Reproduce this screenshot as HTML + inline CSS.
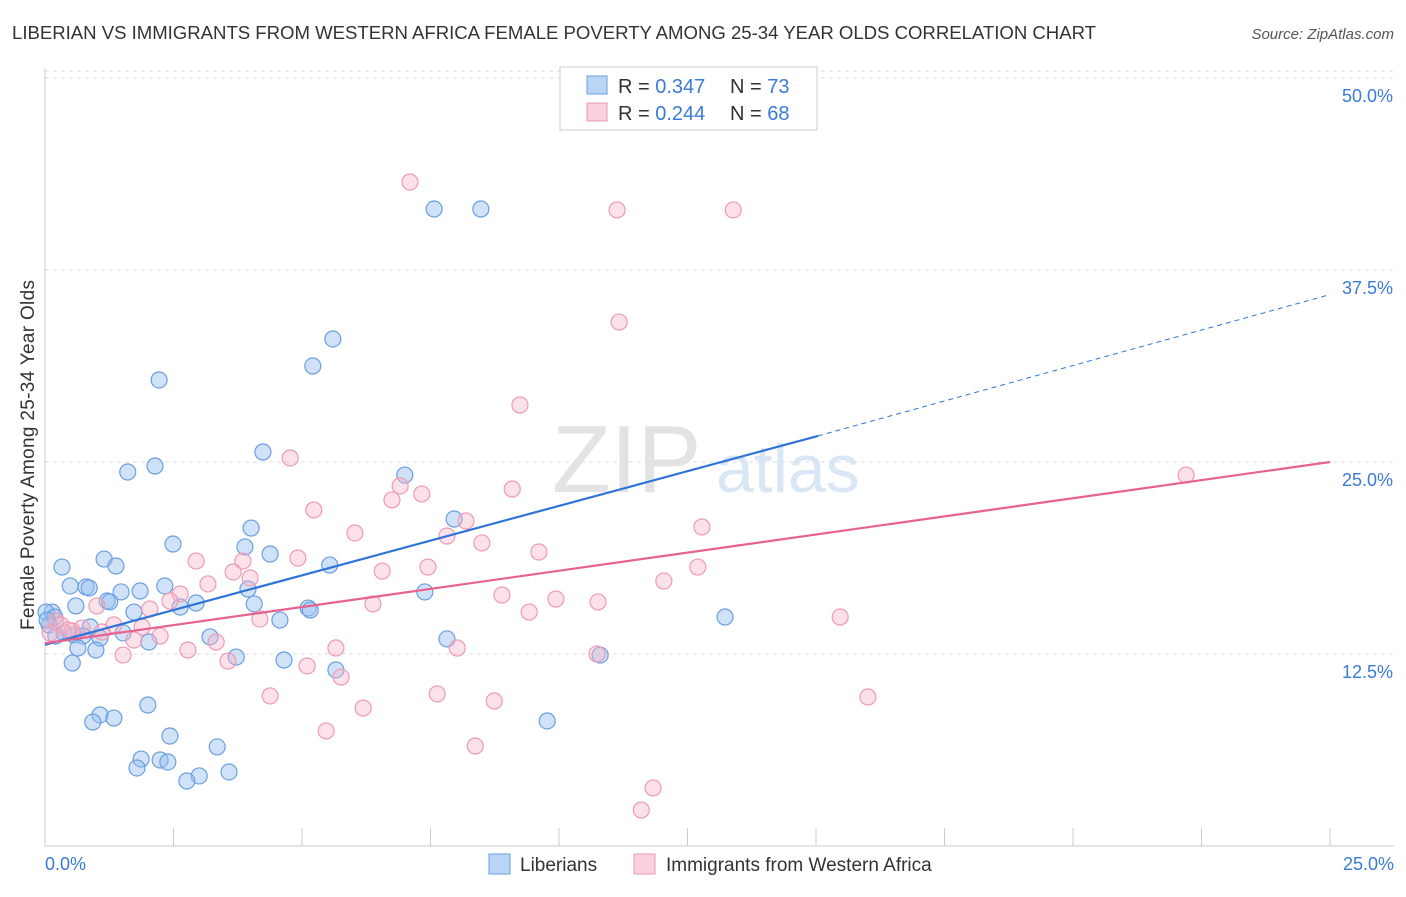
<!DOCTYPE html>
<html><head><meta charset="utf-8"><style>
body{margin:0;background:#fff;font-family:"Liberation Sans",sans-serif}
svg text{font-family:"Liberation Sans",sans-serif}
</style></head><body>
<svg id="c" width="1406" height="892">
<text x="12" y="39" font-size="18.6" fill="#333" textLength="1084">LIBERIAN VS IMMIGRANTS FROM WESTERN AFRICA FEMALE POVERTY AMONG 25-34 YEAR OLDS CORRELATION CHART</text>
<text x="1394" y="39" font-size="15" fill="#555" text-anchor="end" font-style="italic">Source: ZipAtlas.com</text>
<text x="0" y="0" transform="translate(34,455) rotate(-90)" font-size="19" fill="#333" text-anchor="middle" textLength="350">Female Poverty Among 25-34 Year Olds</text>
<g><text x="552" y="492" font-size="96" fill="#e3e3e3" font-family="Liberation Serif">ZIP</text><text x="716" y="492" font-size="68" fill="#d8e6f5">atlas</text></g>
<g id="grid"></g><g id="pts"></g><g id="lines"></g>
<g>
<rect x="560" y="67" width="257" height="63" fill="#fff" stroke="#ccc"/>
<rect x="587" y="76" width="20" height="18" fill="#b9d4f5" stroke="#6a9fe0"/>
<text x="618" y="93" font-size="20" fill="#333">R = <tspan fill="#3a7bd5">0.347</tspan></text>
<text x="730" y="93" font-size="20" fill="#333">N = <tspan fill="#3a7bd5">73</tspan></text>
<rect x="587" y="103" width="20" height="18" fill="#fbcfdc" stroke="#ee9ab4"/>
<text x="618" y="120" font-size="20" fill="#333">R = <tspan fill="#3a7bd5">0.244</tspan></text>
<text x="730" y="120" font-size="20" fill="#333">N = <tspan fill="#3a7bd5">68</tspan></text>
</g>
<g>
<rect x="489" y="854" width="21" height="20" fill="#b9d4f5" stroke="#6a9fe0"/>
<text x="520" y="871" font-size="19" fill="#333">Liberians</text>
<rect x="634" y="854" width="21" height="20" fill="#fbcfdc" stroke="#ee9ab4"/>
<text x="666" y="871" font-size="19" fill="#333">Immigrants from Western Africa</text>
</g>
</svg>
<script>
const xTicksVals=[0,25];
const yTicks=[12.5,25,37.5,50];
const yTickLabels=["12.5%","25.0%","37.5%","50.0%"];
const bluePx=[[434,209],[481,209],[333,339],[313,366],[159,380],[263,452],[155,466],[128,472],[405,475],[454,519],[251,528],[173,544],[245,547],[104,559],[270,554],[62,567],[116,566],[330,565],[70,586],[86,587],[89,588],[165,586],[140,591],[121,592],[248,589],[425,592],[107,601],[110,602],[76,606],[180,607],[196,603],[254,604],[134,612],[308,608],[310,610],[52,612],[46,612],[55,617],[280,620],[725,617],[49,625],[90,627],[64,633],[74,635],[83,636],[123,633],[210,637],[447,639],[100,638],[56,636],[149,642],[78,648],[96,650],[236,657],[284,660],[72,663],[336,670],[600,655],[148,705],[100,715],[114,718],[93,722],[547,721],[170,736],[217,747],[141,759],[160,760],[168,762],[137,768],[229,772],[199,776],[187,781],[47,620]];
const pinkPx=[[410,182],[617,210],[733,210],[619,322],[520,405],[290,458],[1186,475],[512,489],[400,486],[422,494],[392,500],[314,510],[466,521],[355,533],[702,527],[447,536],[482,543],[539,552],[196,561],[243,561],[298,558],[250,578],[233,572],[428,567],[382,571],[698,567],[664,581],[208,584],[180,594],[502,595],[556,599],[598,602],[373,604],[150,609],[97,606],[170,601],[529,612],[840,617],[260,619],[56,621],[61,625],[114,625],[142,627],[82,628],[72,631],[102,632],[50,633],[160,636],[134,640],[216,642],[336,648],[188,650],[457,648],[123,655],[597,654],[228,661],[307,666],[341,677],[270,696],[437,694],[868,697],[494,701],[363,708],[326,731],[475,746],[653,788],[641,810],[68,630]];
const blueX=bluePx.map(p=>+((p[0]-45)/51.4).toFixed(2));
const blueY=bluePx.map(p=>+((846-p[1])/15.36).toFixed(2));
const pinkX=pinkPx.map(p=>+((p[0]-45)/51.4).toFixed(2));
const pinkY=pinkPx.map(p=>+((846-p[1])/15.36).toFixed(2));
const blueTrend=[[0,13.1],[15.04,26.7],[25,35.9]];
const pinkTrend=[[0,13.2],[25,25.0]];
const NS="http://www.w3.org/2000/svg";
const X=v=>45+v*51.4, Y=v=>846-v*15.36;
function mk(t,a,p){const e=document.createElementNS(NS,t);for(const k in a)e.setAttribute(k,a[k]);p.appendChild(e);return e;}
const g=document.getElementById('grid');
yTicks.forEach((t,i)=>{
 const l=mk('line',{x1:45,x2:1394,y1:Y(t),y2:Y(t),stroke:'#ddd','stroke-dasharray':'4,4'},g);
 
 
 const tx=mk('text',{x:1393,y:Y(t)+24,'font-size':18,fill:'#3a7bd5','text-anchor':'end'},g);
 tx.textContent=yTickLabels[i];
 
 
});
mk('line',{x1:45,x2:1394,y1:Y(50)-7,y2:Y(50)-7,stroke:'#ddd','stroke-dasharray':'4,4'},g);
mk('line',{x1:45,x2:45,y1:68,y2:846,stroke:'#ccc'},g);
mk('line',{x1:45,x2:1394,y1:846,y2:846,stroke:'#ccc'},g);
for(let i=0;i<=10;i++){mk('line',{x1:X(i*2.5),x2:X(i*2.5),y1:828,y2:846,stroke:'#ccc'},g);}
xTicksVals.forEach((v,i)=>{const t=mk('text',{x:i?1394:45,y:870,'font-size':18,fill:'#3a7bd5','text-anchor':i?'end':'start'},g);t.textContent=v.toFixed(1)+'%';
 
 });
const P=document.getElementById('pts');
blueX.forEach((x,i)=>{const c=mk('circle',{cx:X(x),cy:Y(blueY[i]),r:8,fill:'rgba(150,190,240,0.45)',stroke:'#6a9fe0','stroke-width':1.2},P);
 
 });
pinkX.forEach((x,i)=>{const c=mk('circle',{cx:X(x),cy:Y(pinkY[i]),r:8,fill:'rgba(248,180,200,0.4)',stroke:'#ee9ab4','stroke-width':1.2},P);
 
 });
const L=document.getElementById('lines');
let b=mk('line',{x1:X(blueTrend[0][0]),y1:Y(blueTrend[0][1]),x2:X(blueTrend[1][0]),y2:Y(blueTrend[1][1]),stroke:'#2f74d8','stroke-width':2.2},L);


let bd=mk('line',{x1:X(blueTrend[1][0]),y1:Y(blueTrend[1][1]),x2:X(blueTrend[2][0]),y2:Y(blueTrend[2][1]),stroke:'#2f74d8','stroke-width':1,'stroke-dasharray':'5,4'},L);


let p=mk('line',{x1:X(pinkTrend[0][0]),y1:Y(pinkTrend[0][1]),x2:X(pinkTrend[1][0]),y2:Y(pinkTrend[1][1]),stroke:'#e8628f','stroke-width':2.2},L);


</script>
</body></html>
